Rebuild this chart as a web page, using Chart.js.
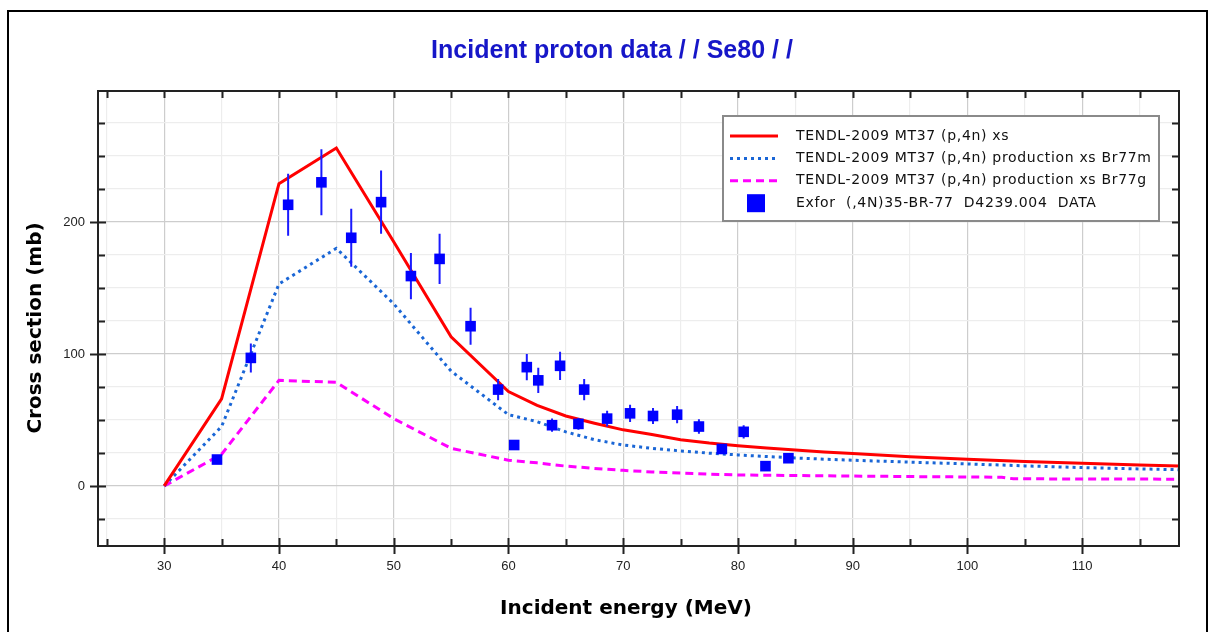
<!DOCTYPE html>
<html><head><meta charset="utf-8">
<script src="https://cdn.jsdelivr.net/npm/chart.js@4.4.1/dist/chart.umd.min.js"></script>
<style>
html,body{margin:0;padding:0;background:#fff;overflow:hidden}
#wrap{position:relative;width:1213px;height:632px}
canvas{display:block}
</style></head><body>
<div id="wrap"><canvas id="c" width="1213" height="632"></canvas></div>
<script>
// ---------- data ----------
const chartTitle = 'Incident proton data / / Se80 / /';
const xAxisTitle = 'Incident energy (MeV)';
const yAxisTitle = 'Cross section (mb)';
const seriesLabels = [
  'TENDL-2009 MT37 (p,4n) xs',
  'TENDL-2009 MT37 (p,4n) production xs Br77m',
  'TENDL-2009 MT37 (p,4n) production xs Br77g',
  'Exfor  (,4N)35-BR-77  D4239.004  DATA'
];
const xsEnergy = [30, 35, 40, 45, 50, 55, 60, 62.5, 65, 67.5, 70, 72.5, 75, 77.5, 80, 82.5, 85, 87.5, 90, 95, 100, 105, 110, 115, 120];
const xsValues = [0, 66, 229, 256, 185, 113, 71.5, 61, 53, 47.5, 42.5, 39, 35, 32.5, 30.5, 28.7, 27.2, 25.8, 24.5, 22.2, 20.3, 18.6, 17.1, 15.8, 14.8];
const br77mEnergy = [30, 35, 40, 45, 50, 55, 60, 62.5, 65, 67.5, 70, 72.5, 75, 77.5, 80, 82.5, 85, 87.5, 90, 95, 100, 105, 110, 115, 120];
const br77mValues = [0, 45, 153, 180, 138, 87, 54, 48.7, 41, 35, 31, 28.5, 26.5, 24.8, 23.5, 22.3, 21.2, 20.3, 19.5, 18, 16.7, 15.2, 13.9, 12.9, 12];
const br77gEnergy = [30, 35, 40, 45, 50, 55, 60, 62.5, 65, 67.5, 70, 72.5, 75, 77.5, 80, 85, 90, 95, 100, 103, 104, 110, 120];
const br77gValues = [0, 24, 80, 78.5, 51, 28.5, 19.5, 17.5, 15, 13.3, 11.8, 10.6, 9.8, 9, 8.3, 7.9, 7.5, 7.1, 6.8, 6.6, 5.4, 5.3, 5.1];
const exforEnergy = [34.6, 37.55, 40.8, 43.7, 46.3, 48.9, 51.5, 54.0, 56.7, 59.1, 60.5, 61.6, 62.6, 63.8, 64.5, 66.1, 66.6, 68.6, 70.6, 72.6, 74.7, 76.6, 78.6, 80.5, 82.4, 84.4];
const exforValues = [20, 97, 213, 230, 188, 215, 159, 172, 121, 73, 31, 90, 80, 46, 91, 47, 73, 51, 55, 53, 54, 45, 28, 41, 15, 21];
const exforErrors = [1.5, 11, 23.5, 25, 22, 24, 17.5, 19, 14, 8, 1.5, 10, 9.5, 5, 10.7, 4.4, 8, 6, 6.5, 6, 6.5, 5.5, 2, 5, 1.5, 1.5];
const xTicks = [25, 30, 35, 40, 45, 50, 55, 60, 65, 70, 75, 80, 85, 90, 95, 100, 105, 110, 115];
const xTickLabels = [30, 40, 50, 60, 70, 80, 90, 100, 110];
const yTicks = [-25, 0, 25, 50, 75, 100, 125, 150, 175, 200, 225, 250, 275];
const yTickLabels = [0, 100, 200];
const xRange = [24.23, 118.44];
const yRange = [-45.5, 299.2];

const toPts = (xs, ys) => xs.map((x, i) => ({x, y: ys[i]}));

function fitText(ctx, text, x, y, target) {
  const w = ctx.measureText(text).width;
  ctx.save();
  ctx.translate(x, y);
  ctx.scale(target / w, 1);
  ctx.fillText(text, 0, 0);
  ctx.restore();
}
function spacedText(ctx, text, x, y, spacing) {
  if ('letterSpacing' in ctx) {
    ctx.letterSpacing = spacing + 'px';
    ctx.fillText(text, x, y);
    ctx.letterSpacing = '0px';
  } else {
    ctx.fillText(text, x, y);
  }
}

// ---------- plugins ----------
const framePlugin = {
  id: 'frameTicks',
  afterDraw(chart) {
    const {ctx, chartArea: a, scales: {x, y}} = chart;
    ctx.save();
    ctx.strokeStyle = '#000'; ctx.lineWidth = 2;
    ctx.beginPath();
    ctx.moveTo(8, 640); ctx.lineTo(8, 11); ctx.lineTo(1207, 11); ctx.lineTo(1207, 640);
    ctx.stroke();
    ctx.strokeStyle = '#222'; ctx.lineWidth = 2;
    ctx.strokeRect(a.left, a.top, a.right - a.left, a.bottom - a.top);
    ctx.beginPath();
    xTicks.forEach(v => {
      const px = Math.round(x.getPixelForValue(v)) + 0.5;
      const major = xTickLabels.includes(v);
      ctx.moveTo(px, a.bottom - (major ? 8 : 7)); ctx.lineTo(px, a.bottom + (major ? 8 : 0));
      ctx.moveTo(px, a.top); ctx.lineTo(px, a.top + 7);
    });
    yTicks.forEach(v => {
      const py = Math.round(y.getPixelForValue(v)) + 0.5;
      const major = yTickLabels.includes(v);
      ctx.moveTo(a.left - (major ? 8 : 0), py); ctx.lineTo(a.left + (major ? 8 : 7), py);
      ctx.moveTo(a.right - 7, py); ctx.lineTo(a.right, py);
    });
    ctx.stroke();

    ctx.fillStyle = '#1616c8';
    ctx.font = 'bold 25px "Liberation Sans", Arial, sans-serif';
    ctx.textAlign = 'center'; ctx.textBaseline = 'alphabetic';
    fitText(ctx, chartTitle, 612, 58, 362);
    ctx.fillStyle = '#000';
    ctx.font = 'bold 20px "DejaVu Sans", sans-serif';
    ctx.textBaseline = 'middle';
    ctx.fillText(xAxisTitle, 626, 609);
    ctx.save();
    ctx.translate(36, 328); ctx.rotate(-Math.PI / 2);
    ctx.fillText(yAxisTitle, 0, 0);
    ctx.restore();

    const bw = 436, bh = 105;
    const bx = a.right - 20 - bw, by = a.top + 25;
    ctx.fillStyle = '#fff';
    ctx.fillRect(bx, by, bw, bh);
    ctx.strokeStyle = '#8a8a8a'; ctx.lineWidth = 2;
    ctx.strokeRect(bx, by, bw, bh);
    ctx.font = '14px "DejaVu Sans", sans-serif';
    ctx.textAlign = 'left'; ctx.textBaseline = 'middle';
    const longest = seriesLabels[1];
    const lw = ctx.measureText(longest).width;
    const sp = Math.max(0, (355 - lw) / (longest.length - 1));
    const order = [1, 2, 3, 0];
    order.forEach((di, row) => {
      const ds = chart.data.datasets[di];
      const ry = by + 20 + row * 22.4;
      if (ds.showLine !== false) {
        ctx.strokeStyle = ds.borderColor; ctx.lineWidth = ds.borderWidth;
        ctx.setLineDash(ds.borderDash || []);
        ctx.beginPath(); ctx.moveTo(bx + 7, ry); ctx.lineTo(bx + 55, ry); ctx.stroke();
        ctx.setLineDash([]);
      } else {
        ctx.fillStyle = ds.backgroundColor;
        ctx.fillRect(bx + 24, ry - 9, 18, 18);
      }
      ctx.fillStyle = '#111';
      spacedText(ctx, ds.label, bx + 73, ry, sp);
    });
    ctx.restore();
  }
};

const errorBarPlugin = {
  id: 'errorBars',
  beforeDatasetDraw(chart, args) {
    if (args.index !== 0) return;
    const {ctx, chartArea: a, scales: {x, y}} = chart;
    ctx.save();
    ctx.beginPath(); ctx.rect(a.left, a.top, a.right - a.left, a.bottom - a.top); ctx.clip();
    ctx.strokeStyle = '#1a1aff'; ctx.lineWidth = 2;
    ctx.beginPath();
    exforEnergy.forEach((e, i) => {
      const px = x.getPixelForValue(e);
      ctx.moveTo(px, y.getPixelForValue(exforValues[i] - exforErrors[i]));
      ctx.lineTo(px, y.getPixelForValue(exforValues[i] + exforErrors[i]));
    });
    ctx.stroke();
    ctx.restore();
  }
};

// ---------- chart ----------
const tickFont = {family: '"Liberation Sans", Arial, sans-serif', size: 13};
new Chart(document.getElementById('c'), {
  type: 'scatter',
  data: {
    datasets: [
      {
        label: seriesLabels[3], type: 'scatter', data: toPts(exforEnergy, exforValues),
        pointStyle: 'rect', pointRadius: 7.5, pointHoverRadius: 7.5,
        backgroundColor: '#0000ff', borderColor: '#0000ff', borderWidth: 0, showLine: false, order: 0
      },
      {
        label: seriesLabels[0], type: 'line', data: toPts(xsEnergy, xsValues),
        borderColor: '#ff0000', borderWidth: 3, pointRadius: 0, tension: 0, fill: false, order: 1
      },
      {
        label: seriesLabels[1], type: 'line', data: toPts(br77mEnergy, br77mValues),
        borderColor: '#1a66d6', borderWidth: 3, borderDash: [3, 4], pointRadius: 0, tension: 0, fill: false, order: 2
      },
      {
        label: seriesLabels[2], type: 'line', data: toPts(br77gEnergy, br77gValues),
        borderColor: '#ff00ff', borderWidth: 3, borderDash: [8, 5], pointRadius: 0, tension: 0, fill: false, order: 3
      }
    ]
  },
  options: {
    responsive: false, animation: false, devicePixelRatio: 1,
    layout: {padding: {top: 91, right: 34, left: 0, bottom: 0}},
    plugins: {legend: {display: false}, title: {display: false}, tooltip: {enabled: false}},
    scales: {
      x: {
        type: 'linear', min: xRange[0], max: xRange[1],
        afterFit: s => { s.height = 86; },
        afterBuildTicks: s => { s.ticks = xTicks.map(v => ({value: v})); },
        ticks: {autoSkip: false, maxRotation: 0, padding: 13, color: '#222', font: tickFont,
          callback: v => xTickLabels.includes(v) ? String(v) : ''},
        grid: {drawTicks: false, lineWidth: 1.2,
          color: c => xTickLabels.includes(c.tick && c.tick.value) ? '#cdcdcd' : '#ededed'},
        border: {display: false}
      },
      y: {
        type: 'linear', min: yRange[0], max: yRange[1],
        afterFit: s => { s.width = 98; },
        afterBuildTicks: s => { s.ticks = yTicks.map(v => ({value: v})); },
        ticks: {autoSkip: false, padding: 13, color: '#222', font: tickFont,
          callback: v => yTickLabels.includes(v) ? String(v) : ''},
        grid: {drawTicks: false, lineWidth: 1.2,
          color: c => yTickLabels.includes(c.tick && c.tick.value) ? '#cdcdcd' : '#ededed'},
        border: {display: false}
      }
    }
  },
  plugins: [errorBarPlugin, framePlugin]
});
</script>
</body></html>
